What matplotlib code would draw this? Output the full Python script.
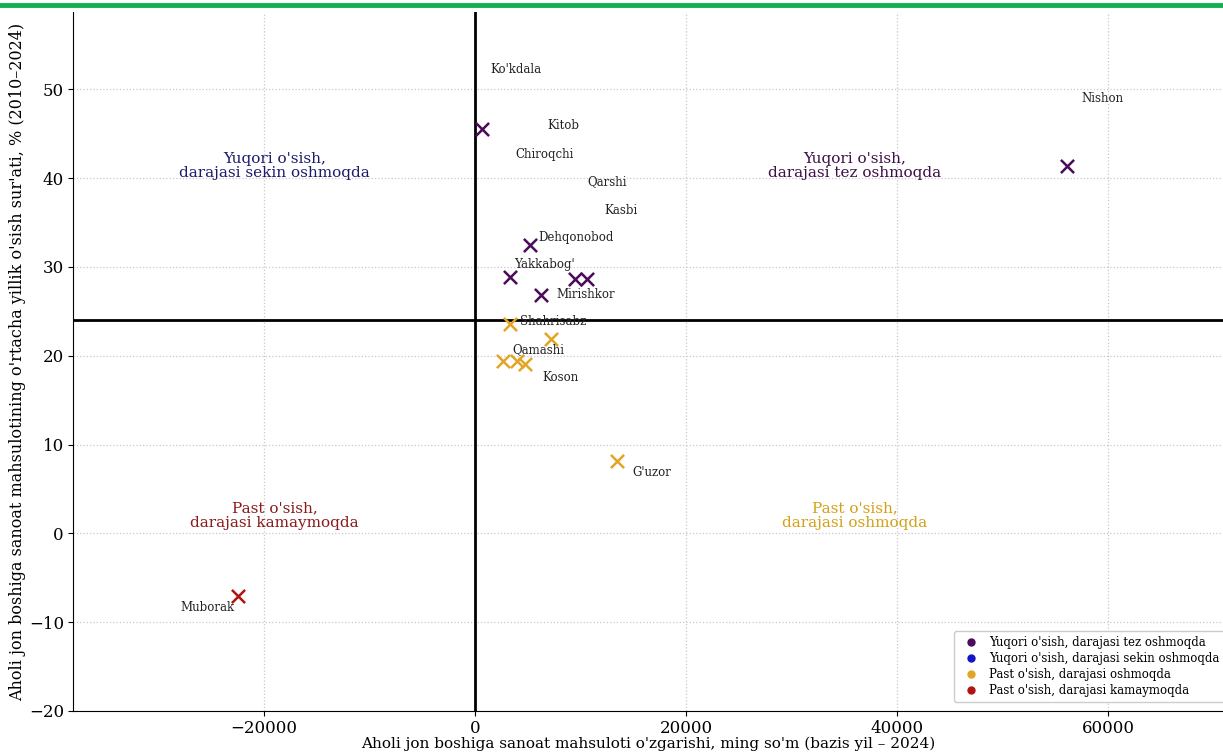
import numpy as np
import matplotlib
matplotlib.use("Agg")
import matplotlib.pyplot as plt
from matplotlib.lines import Line2D

plt.rcParams['font.family'] = ['DejaVu Serif']

# points: change of per-capita output (thousand so'm) vs average growth rate, %
pt_x = [663, 5200, 3300, 9500, 10600, 6250, 56100,
        3300, 7200, 2650, 4000, 4700, 13450,
        -22460]
pt_y = [45.5, 32.5, 28.9, 28.6, 28.6, 26.8, 41.4,
        23.6, 21.9, 19.4, 19.4, 19.1, 8.2,
        -7.0]
pt_group = ['tez'] * 7 + ['osh'] * 6 + ['kam']

# district labels as placed in the chart
lbl_names = ["Ko'kdala", "Kitob", "Chiroqchi", "Qarshi", "Kasbi", "Dehqonobod",
             "Yakkabog'", "Mirishkor", "Nishon", "Shahrisabz", "Qamashi", "Koson",
             "G'uzor", "Muborak"]
lbl_x = [1420, 6900, 3800, 10700, 12300, 5970, 3700, 7680, 57500,
         4270, 3500, 6350, 14900, -22800]
lbl_y = [52.2, 45.9, 42.7, 39.6, 36.4, 33.3, 30.3, 26.9, 49.0,
         23.8, 20.7, 17.6, 6.8, -8.4]

x_mid = 0
y_mid = 24.0

colors = {'tez': '#4b0c5a', 'sekin': '#1414c8', 'osh': '#e2a526', 'kam': '#b01414'}
legend_names = {'tez': "Yuqori o'sish, darajasi tez oshmoqda",
                'sekin': "Yuqori o'sish, darajasi sekin oshmoqda",
                'osh': "Past o'sish, darajasi oshmoqda",
                'kam': "Past o'sish, darajasi kamaymoqda"}

fig = plt.figure(figsize=(12.23, 7.53), dpi=100)
ax = fig.add_axes([0.0597, 0.0558, 0.9403, 0.9283])

for g in ['tez', 'osh', 'kam']:
    xs = [x for x, gg in zip(pt_x, pt_group) if gg == g]
    ys = [y for y, gg in zip(pt_y, pt_group) if gg == g]
    ax.scatter(xs, ys, marker='x', s=90, linewidths=1.8, color=colors[g], zorder=3)

for name, x, y in zip(lbl_names, lbl_x, lbl_y):
    ha = 'right' if name == "Muborak" else 'left'
    ax.text(x, y, name, fontsize=8.5, ha=ha, va='center', color='#222222')

ax.axvline(x_mid, color='black', lw=2)
ax.axhline(y_mid, color='black', lw=2)

# quadrant captions
ax.text(-19000, 41.4, "Yuqori o'sish,\ndarajasi sekin oshmoqda", ha='center', va='center',
        fontsize=11, color='#1b1b6b', linespacing=1.0)
ax.text(36000, 41.4, "Yuqori o'sish,\ndarajasi tez oshmoqda", ha='center', va='center',
        fontsize=11, color='#3d0f45', linespacing=1.0)
ax.text(-19000, 2.0, "Past o'sish,\ndarajasi kamaymoqda", ha='center', va='center',
        fontsize=11, color='#8b1a1a', linespacing=1.0)
ax.text(36000, 2.0, "Past o'sish,\ndarajasi oshmoqda", ha='center', va='center',
        fontsize=11, color='#d4a017', linespacing=1.0)

ax.set_xlim(-38100, 70900)
ax.set_ylim(-20, 58.7)
ax.set_xticks([-20000, 0, 20000, 40000, 60000])
ax.set_yticks([-20, -10, 0, 10, 20, 30, 40, 50])
ax.tick_params(labelsize=12, pad=3)
ax.grid(True, linestyle=':', color='#c8c8c8', lw=0.9)
ax.spines['top'].set_visible(False)
ax.spines['right'].set_visible(False)

ax.set_xlabel("Aholi jon boshiga sanoat mahsuloti o'zgarishi, ming so'm (bazis yil \u2013 2024)",
              fontsize=11, labelpad=0)
ax.set_ylabel("Aholi jon boshiga sanoat mahsulotining o'rtacha yillik o'sish sur'ati, % (2010\u20132024)",
              fontsize=11.5, labelpad=2)

handles = [Line2D([], [], marker='o', ls='', color=colors[k], markersize=5) for k in colors]
ax.legend(handles, [legend_names[k] for k in colors], loc='lower left',
          bbox_to_anchor=(0.761, 0.005), fontsize=8.5, handletextpad=0.6,
          labelspacing=0.25, borderpad=0.4, framealpha=1)

# green band on top of the screenshot
fig.add_artist(Line2D([0, 1], [0.9935, 0.9935], color='#12b04a', lw=3.5,
                      transform=fig.transFigure))

fig.savefig('out.png', dpi=100)
